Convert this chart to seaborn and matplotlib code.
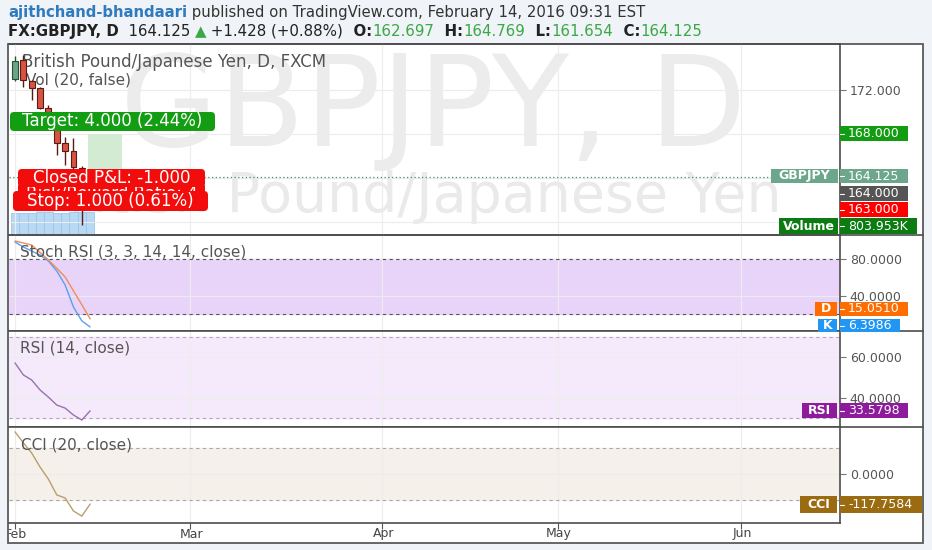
import matplotlib
matplotlib.use("Agg")
import numpy as np
import pandas as pd
import matplotlib.pyplot as plt
import seaborn as sns
from matplotlib.patches import FancyBboxPatch, Rectangle

# GBPJPY daily (FXCM), trading days Feb 1 - Feb 12 2016
days = ["Feb 01", "Feb 02", "Feb 03", "Feb 04", "Feb 05",
        "Feb 08", "Feb 09", "Feb 10", "Feb 11", "Feb 12"]
bar_idx = list(range(len(days)))
opens = [172.95, 174.67, 172.77, 172.14, 170.33, 168.33, 167.16, 166.43, 164.90, 162.697]
highs = [175.00, 175.12, 172.86, 172.20, 170.60, 168.97, 167.70, 167.60, 165.10, 164.769]
lows = [172.80, 172.20, 171.05, 170.20, 169.60, 166.07, 165.17, 164.70, 159.74, 161.654]
closes = [174.58, 172.86, 172.14, 170.33, 169.96, 167.16, 166.43, 164.99, 162.697, 164.125]
volume = [780, 800, 790, 810, 805, 795, 800, 812, 820, 803.953]   # thousands

stoch_k = [98.4, 93.0, 88.6, 84.3, 77.8, 67.0, 51.9, 28.0, 13.0, 6.3986]
stoch_d = [99.5, 97.3, 95.1, 87.0, 79.0, 70.0, 60.5, 45.5, 30.5, 15.0510]
rsi = [57.1, 51.2, 48.7, 43.8, 40.3, 36.4, 34.9, 31.5, 29.0, 33.5798]
cci = [165, 122, 82, 27, -20, -82, -94, -145, -165, -117.7584]

# long position tool
entry, target, stop = 164.0, 168.0, 163.0

# month starts in trading-day index
month_pos = [0, 21, 44, 65, 87]
month_lbl = ["Feb", "Mar", "Apr", "May", "Jun"]

W, H = 932, 550
XL = (-0.72, 98.8)

sns.set_style("white")
plt.rcParams['font.family'] = ['DejaVu Sans']

fig = plt.figure(figsize=(W / 100, H / 100), dpi=100, facecolor='#f0f3f7')


def fr(x0, y0, x1, y1):
    return [x0 / W, 1 - y1 / H, (x1 - x0) / W, (y1 - y0) / H]


ax_bg = fig.add_axes([0, 0, 1, 1], zorder=-5)
ax_bg.set_xlim(0, W)
ax_bg.set_ylim(H, 0)
ax_bg.axis('off')
ax_bg.add_patch(Rectangle((8, 44), 915, 499, fc='white', ec='#5a5a5a', lw=1.3))
for yy in [235, 331, 427]:
    ax_bg.plot([840, 923], [yy, yy], color='#4d4d4d', lw=1.2)

ax_vol = fig.add_axes(fr(9, 44, 840, 235), zorder=1)
ax_main = fig.add_axes(fr(9, 44, 840, 235), zorder=2, facecolor='none')
ax_st = fig.add_axes(fr(9, 235, 840, 331), zorder=1)
ax_rsi = fig.add_axes(fr(9, 331, 840, 427), zorder=1)
ax_cci = fig.add_axes(fr(9, 427, 840, 523), zorder=1)
ax_x = fig.add_axes(fr(9, 523, 840, 543), zorder=1, facecolor='none')
ax_ov = fig.add_axes([0, 0, 1, 1], zorder=10, facecolor='none')
ax_ov.set_xlim(0, W)
ax_ov.set_ylim(H, 0)
ax_ov.axis('off')


def style(ax, ticks, labels):
    ax.set_xlim(*XL)
    ax.set_xticks(month_pos)
    ax.tick_params(axis='x', bottom=False, labelbottom=False)
    ax.yaxis.tick_right()
    ax.set_yticks(ticks)
    ax.set_yticklabels(labels)
    ax.tick_params(axis='y', right=True, direction='out', length=4, width=0.8,
                   colors='#777777', labelcolor='#555555', labelsize=9, pad=3)
    ax.grid(True, color='#ececec', lw=0.8)
    ax.set_axisbelow(True)
    for sp in ax.spines.values():
        sp.set_color('#4d4d4d')
        sp.set_linewidth(1.2)
    ax.spines['left'].set_visible(False)


# ---- main price panel
ax_vol.set_xlim(*XL)
ax_vol.set_ylim(0, max(volume) * 191 / 23)
ax_vol.axis('off')
ax_vol.bar(bar_idx, volume, width=1.0, color='#b9d8f3', edgecolor='#9cc5e8', lw=0.6, zorder=2)
ax_vol.text(0.51, 0.466, "GBPJPY, D", transform=ax_vol.transAxes, ha='center', va='baseline',
            fontsize=91, color='#ececec', zorder=0, clip_on=True)
ax_vol.text(0.026, 0.12, "British Pound/Japanese Yen", transform=ax_vol.transAxes, ha='left',
            va='baseline', fontsize=40, color='#eaeaea', zorder=0, clip_on=True)

# only 172 is readable, the rest sits under the price labels
style(ax_main, [160, 164, 168, 172], ['', '', '', '172.000'])
ax_main.set_ylim(158.83, 176.12)

ax_main.add_patch(Rectangle((8.75, entry), 4.05, target - entry, fc='#d3ead3', ec='none', zorder=1))
ax_main.add_patch(Rectangle((8.75, stop), 4.05, entry - stop, fc='#f6cccc', ec='none', zorder=1))
ax_main.axhline(closes[-1], xmin=0, xmax=(771 - 9) / 831, color='#4c8a74', lw=0.9,
                ls=(0, (1, 2)), zorder=2)

df = pd.DataFrame({'i': bar_idx, 'o': opens, 'h': highs, 'l': lows, 'c': closes})
up = df.c >= df.o
fc = np.where(up, '#6ba583', '#d75442')
ec = np.where(up, '#225437', '#5b1a13')
ax_main.vlines(df.i, df.l, df.h, colors=ec, lw=1, zorder=3)
ax_main.bar(df.i, (df.c - df.o).abs(), bottom=np.minimum(df.o, df.c), width=0.7,
            color=fc, edgecolor=ec, lw=0.8, zorder=4)

ax_main.text((22 - 9) / 831, 1 - (62 - 44) / 191, "British Pound/Japanese Yen, D, FXCM",
             transform=ax_main.transAxes, va='center', fontsize=12, color='#555555', zorder=1)
ax_main.text((26 - 9) / 831, 1 - (80 - 44) / 191, "Vol (20, false)",
             transform=ax_main.transAxes, va='center', fontsize=11, color='#555555', zorder=1)

# ---- Stoch RSI
style(ax_st, [40, 80], ['40.0000', '80.0000'])
ax_st.set_ylim(2, 106)
ax_st.axhspan(20, 80, color='#e8d4f8', zorder=0)
for lv in [20, 80]:
    ax_st.axhline(lv, color='#555555', lw=0.8, ls=(0, (3, 3)), zorder=1)
sns.lineplot(x=bar_idx, y=stoch_k, ax=ax_st, color='#5b9ff0', linewidth=1)
sns.lineplot(x=bar_idx, y=stoch_d, ax=ax_st, color='#f08c5a', linewidth=1)
ax_st.text((20 - 9) / 831, 1 - (252 - 235) / 96, "Stoch RSI (3, 3, 14, 14, close)",
           transform=ax_st.transAxes, va='center', fontsize=11, color='#555555')

# ---- RSI
style(ax_rsi, [40, 60], ['40.0000', '60.0000'])
ax_rsi.set_ylim(25.6, 72.8)
ax_rsi.axhspan(30, 70, color='#f4eafb', zorder=0)
for lv in [30, 70]:
    ax_rsi.axhline(lv, color='#b0a8b8', lw=0.8, ls=(0, (3, 3)), zorder=1)
sns.lineplot(x=bar_idx, y=rsi, ax=ax_rsi, color='#9a72aa', linewidth=1)
ax_rsi.text((20 - 9) / 831, 1 - (348 - 331) / 96, "RSI (14, close)",
            transform=ax_rsi.transAxes, va='center', fontsize=11, color='#555555')

# ---- CCI
style(ax_cci, [0], ['0.0000'])
ax_cci.set_ylim(-192, 184)
ax_cci.axhspan(-100, 100, color='#f6f0ea', zorder=0)
for lv in [-100, 100]:
    ax_cci.axhline(lv, color='#a8a8a8', lw=0.8, ls=(0, (3, 3)), zorder=1)
sns.lineplot(x=bar_idx, y=cci, ax=ax_cci, color='#b89f6c', linewidth=1)
ax_cci.text((21 - 9) / 831, 1 - (445 - 427) / 96, "CCI (20, close)",
            transform=ax_cci.transAxes, va='center', fontsize=11, color='#555555')
ax_cci.tick_params(axis='x', bottom=True, direction='out', length=4, width=0.8, color='#555555')

for ax in [ax_st, ax_rsi, ax_cci]:
    ax.set_xlim(*XL)
    ax.set_xlabel('')
    ax.set_ylabel('')

# ---- date strip
ax_x.set_xlim(*XL)
ax_x.set_ylim(0, 1)
ax_x.axis('off')
for p, lbl in zip(month_pos, month_lbl):
    ax_x.text(p + 0.15, 0.45, lbl, ha='center', va='center', fontsize=9, color='#444444', clip_on=True)


# ---- overlay labels (pixel coordinates), later boxes sit on top of earlier ones
layer = [5]


def box(x0, y0, x1, y1, col, txt, fs=9, ha='left', tx=None, weight='normal', rounded=False, tick=False):
    z = layer[0]
    layer[0] += 1
    bs = 'round,pad=0,rounding_size=4' if rounded else 'square,pad=0'
    ax_ov.add_patch(FancyBboxPatch((x0, y0), x1 - x0, y1 - y0, boxstyle=bs, fc=col, ec='none', zorder=z))
    if tx is None:
        tx = (x0 + x1) / 2 if ha == 'center' else x0 + 8
    ax_ov.text(tx, (y0 + y1) / 2, txt, ha=ha, va='center', fontsize=fs, color='white',
               fontweight=weight, zorder=z + 0.5)
    if tick:
        ax_ov.plot([840, 844], [(y0 + y1) / 2] * 2, color='white', lw=0.8, zorder=z + 0.6)


gain = target - entry
risk = entry - stop
box(10, 112, 215, 131, '#139d13', f"Target: {gain:.3f} ({gain / entry * 100:.2f}%)",
    fs=12, ha='center', rounded=True)
box(18, 183, 205, 203, '#f20c0c', f"Risk/Reward Ratio: {gain / risk:.0f}", fs=12, ha='center', rounded=True)
box(18, 169, 205, 187, '#f20c0c', f"Closed P&L: {-risk:.3f}", fs=12, ha='center', rounded=True)
box(13, 191, 208, 211, '#f20c0c', f"Stop: {risk:.3f} ({risk / entry * 100:.2f}%)",
    fs=12, ha='center', rounded=True)

box(840, 126, 908, 141, '#129c12', f"{target:.3f}", tick=True)
box(771, 169, 838, 183, '#6ca78b', "GBPJPY", ha='center', weight='bold')
box(840, 169, 908, 183, '#6ca78b', f"{closes[-1]:.3f}", tick=True)
box(840, 186, 908, 201, '#555555', f"{entry:.3f}", tick=True)
box(840, 202, 908, 217, '#ff0000', f"{stop:.3f}", tick=True)
box(779, 218, 838, 234, '#0c7c12', "Volume", ha='center', weight='bold')
box(840, 218, 917, 234, '#0c7c12', f"{volume[-1]:.3f}K", tick=True)

box(815, 302, 837, 316, '#ff6d00', "D", ha='center', weight='bold')
box(840, 302, 908, 316, '#ff6d00', f"{stoch_d[-1]:.4f}", tick=True)
box(818, 319, 837, 332, '#2196f3', "K", ha='center', weight='bold')
box(840, 319, 900, 332, '#2196f3', f"{stoch_k[-1]:.4f}", tick=True)
box(802, 403, 837, 418, '#8e1b9c', "RSI", ha='center', weight='bold')
box(840, 403, 908, 418, '#8e1b9c', f"{rsi[-1]:.4f}", tick=True)
box(800, 496, 837, 513, '#9b6b12', "CCI", ha='center', weight='bold')
box(840, 496, 922, 513, '#9b6b12', f"{cci[-1]:.4f}", tick=True)

# ---- header
renderer = fig.canvas.get_renderer()


def chain(y, parts, x=8, fs=10):
    for s, col, wt in parts:
        t = ax_ov.text(x, y, s, color=col, fontweight=wt, fontsize=fs, va='baseline', ha='left')
        x += t.get_window_extent(renderer).width


green = '#3aa845'
chg = closes[-1] - closes[-2]
chain(17, [("ajithchand-bhandaari", '#2f7bbd', 'bold'),
           (" published on TradingView.com, February 14, 2016 09:31 EST", '#333333', 'normal')], fs=10.7)
chain(36, [("FX:GBPJPY, D", '#222222', 'bold'),
           (f"  {closes[-1]:.3f} ", '#222222', 'normal'),
           ("▲", green, 'normal'),
           (f" +{chg:.3f} (+{chg / closes[-2] * 100:.2f}%)", '#222222', 'normal'),
           ("  O:", '#222222', 'bold'), (f"{opens[-1]:.3f}", green, 'normal'),
           ("  H:", '#222222', 'bold'), (f"{highs[-1]:.3f}", green, 'normal'),
           ("  L:", '#222222', 'bold'), (f"{lows[-1]:.3f}", green, 'normal'),
           ("  C:", '#222222', 'bold'), (f"{closes[-1]:.3f}", green, 'normal')], fs=10.8)

fig.savefig("out.png", dpi=100, facecolor=fig.get_facecolor())
